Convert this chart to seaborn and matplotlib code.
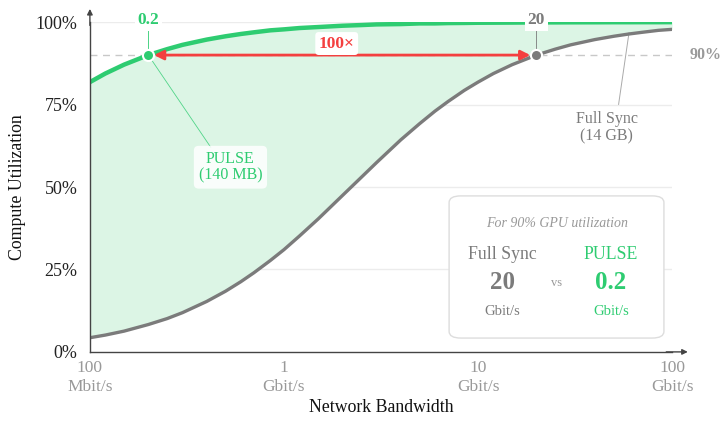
import matplotlib
matplotlib.use('Agg')
import matplotlib.pyplot as plt
from matplotlib.patches import FancyBboxPatch
from matplotlib.ticker import FixedLocator, LogLocator, NullFormatter
import pandas as pd
import seaborn as sns

# bandwidth in Gbit/s
bandwidth = [0.1, 0.12, 0.15, 0.2, 0.25, 0.3, 0.4, 0.5, 0.6, 0.7, 0.85, 1, 1.2, 1.5,
             2, 2.5, 3, 4, 5, 6, 7, 8.5, 10, 12, 15, 20, 25, 30, 40, 50, 60, 70,
             85, 100]
# utilization in %
full_sync = [4.3, 5.1, 6.3, 8.3, 10.1, 11.9, 15.3, 18.4, 21.3, 24.0, 27.7, 31.0,
             35.1, 40.3, 47.4, 52.9, 57.4, 64.3, 69.2, 73.0, 75.9, 79.3, 81.8,
             84.4, 87.1, 90.0, 91.8, 93.1, 94.7, 95.7, 96.4, 96.9, 97.5, 97.8]
pulse = [81.8, 84.4, 87.1, 90.0, 91.8, 93.1, 94.7, 95.7, 96.4, 96.9, 97.5, 97.8,
         98.2, 98.5, 98.9, 99.1, 99.3, 99.4, 99.6, 99.6, 99.7, 99.74, 99.8,
         99.82, 99.85, 99.9, 99.91, 99.93, 99.94, 99.96, 99.96, 99.97, 99.97, 99.98]

target = 90
pulse_bw = 0.2
sync_bw = 20
xticks = [0.1, 1, 10, 100]
xticklabels = ['100\nMbit/s', '1\nGbit/s', '10\nGbit/s', '100\nGbit/s']
yticks = [0, 25, 50, 75, 100]

GREEN = '#2ecc71'
GRAY = '#7b7b7b'
RED = '#f43f3f'
LIGHT = '#999999'

df = pd.DataFrame({'bw': bandwidth, 'sync': [v / 100 for v in full_sync],
                   'pulse': [v / 100 for v in pulse]})

sns.set_style('white')
plt.rcParams['font.family'] = ['Liberation Serif', 'DejaVu Serif']

fig = plt.figure(figsize=(7.25, 4.25), dpi=100)
ax = fig.add_axes([0.124, 0.172, 0.803, 0.776])

ax.set_xscale('log')
ax.set_xlim(0.1, 100)
ax.set_ylim(0, 1.0)

for y in [0.25, 0.5, 0.75, 1.0]:
    ax.axhline(y, color='#ececec', lw=1, zorder=0)

ax.fill_between(df.bw, df.sync, df.pulse, color='#dcf5e5', lw=0, zorder=1)
ax.axhline(target / 100, color='#c8c8c8', lw=1, ls=(0, (5, 4)), zorder=1.5)

sns.lineplot(data=df, x='bw', y='pulse', color=GREEN, lw=3.2, ax=ax, zorder=3)
sns.lineplot(data=df, x='bw', y='sync', color=GRAY, lw=2.4, ax=ax, zorder=3)

# red arrow between the two 90% points
ax.annotate('', xy=(sync_bw * 0.93, 0.9), xytext=(pulse_bw * 1.07, 0.9),
            arrowprops=dict(arrowstyle='<|-|>', color=RED, lw=2, mutation_scale=14,
                            shrinkA=0, shrinkB=0), zorder=4)
ax.text(1.87, 0.935, '100×', color=RED, fontsize=12.5, fontweight='bold',
        ha='center', va='center', zorder=6,
        bbox=dict(boxstyle='round,pad=0.2', fc='white', ec='none'))

# points
ax.plot([pulse_bw], [0.9], 'o', ms=8, color=GREEN, mec='white', mew=1.5, zorder=5)
ax.plot([sync_bw], [0.9], 'o', ms=8, color=GRAY, mec='white', mew=1.5, zorder=5)

# labels above the points
ax.plot([pulse_bw, pulse_bw], [0.9, 0.99], color=GREEN, lw=0.6, zorder=2)
ax.text(pulse_bw, 1.005, '0.2', color=GREEN, fontsize=12.5, fontweight='bold',
        ha='center', va='center', zorder=6,
        bbox=dict(boxstyle='square,pad=0.15', fc='white', ec='none'))
ax.plot([sync_bw, sync_bw], [0.9, 0.99], color=GRAY, lw=0.6, zorder=2)
ax.text(sync_bw, 1.005, '20', color=GRAY, fontsize=12.5, fontweight='bold',
        ha='center', va='center', zorder=6,
        bbox=dict(boxstyle='square,pad=0.15', fc='white', ec='none'))

ax.text(1.057, 0.9, '90%', transform=ax.transAxes, color=LIGHT, fontsize=11.5,
        fontweight='bold', ha='center', va='center')

# callouts
ax.plot([pulse_bw, 0.42], [0.9, 0.62], color=GREEN, lw=0.6, alpha=0.8, zorder=2)
ax.text(0.53, 0.56, 'PULSE\n(140 MB)', color=GREEN, fontsize=11.5, ha='center',
        va='center', linespacing=1.1, zorder=6,
        bbox=dict(boxstyle='round,pad=0.3', fc='white', ec='none', alpha=0.85))
ax.plot([60, 53], [0.968, 0.75], color='#aaaaaa', lw=0.7, zorder=2)
ax.text(46, 0.68, 'Full Sync\n(14 GB)', color=GRAY, fontsize=11.5, ha='center',
        va='center', linespacing=1.1, zorder=6,
        bbox=dict(boxstyle='round,pad=0.2', fc='white', ec='none'))

# info box
box = FancyBboxPatch((0.617, 0.042), 0.369, 0.431, transform=ax.transAxes,
                     boxstyle='round,pad=0,rounding_size=0.02', fc='white',
                     ec='#dddddd', lw=1, zorder=6)
ax.add_patch(box)
ax.text(0.802, 0.388, 'For 90% GPU utilization', transform=ax.transAxes,
        color=LIGHT, fontsize=10, style='italic', ha='center', va='center', zorder=7)
ax.text(0.708, 0.294, 'Full Sync', transform=ax.transAxes, color=GRAY,
        fontsize=12.8, ha='center', va='center', zorder=7)
ax.text(0.708, 0.209, '20', transform=ax.transAxes, color=GRAY, fontsize=18,
        fontweight='bold', ha='center', va='center', zorder=7)
ax.text(0.708, 0.124, 'Gbit/s', transform=ax.transAxes, color=GRAY,
        fontsize=10.5, ha='center', va='center', zorder=7)
ax.text(0.802, 0.209, 'vs', transform=ax.transAxes, color=LIGHT, fontsize=9,
        ha='center', va='center', zorder=7)
ax.text(0.895, 0.294, 'PULSE', transform=ax.transAxes, color=GREEN,
        fontsize=12.8, ha='center', va='center', zorder=7)
ax.text(0.895, 0.209, '0.2', transform=ax.transAxes, color=GREEN, fontsize=18,
        fontweight='bold', ha='center', va='center', zorder=7)
ax.text(0.895, 0.124, 'Gbit/s', transform=ax.transAxes, color=GREEN,
        fontsize=10.5, ha='center', va='center', zorder=7)

# axes styling
for s in ['top', 'right']:
    ax.spines[s].set_visible(False)
for s in ['left', 'bottom']:
    ax.spines[s].set_color('#444444')
    ax.spines[s].set_linewidth(1)
    ax.spines[s].set_zorder(8)
ax.annotate('', xy=(0, 1.04), xytext=(0, 0.99), xycoords='axes fraction',
            arrowprops=dict(arrowstyle='-|>', color='#444444', lw=1, mutation_scale=8,
                            shrinkA=0, shrinkB=0), annotation_clip=False)
ax.annotate('', xy=(1.027, 0), xytext=(0.99, 0), xycoords='axes fraction',
            arrowprops=dict(arrowstyle='-|>', color='#444444', lw=1, mutation_scale=8,
                            shrinkA=0, shrinkB=0), annotation_clip=False)

ax.xaxis.set_major_locator(FixedLocator(xticks))
ax.set_xticklabels(xticklabels)
ax.xaxis.set_minor_locator(LogLocator(base=10, subs=range(2, 10)))
ax.xaxis.set_minor_formatter(NullFormatter())
ax.set_yticks([v / 100 for v in yticks])
ax.set_yticklabels([f'{v}%' for v in yticks])

ax.tick_params(axis='x', which='major', direction='inout', length=8, width=1,
               color='#444444', labelsize=12.5, labelcolor=LIGHT, pad=2)
ax.tick_params(axis='x', which='minor', direction='inout', length=5, width=0.8,
               color='#444444')
ax.tick_params(axis='y', direction='inout', length=6, width=1, color='#444444',
               labelsize=13, labelcolor='#222222', pad=6)

ax.set_xlabel('Network Bandwidth', fontsize=12.8, color='#111111', labelpad=3)
ax.set_ylabel('Compute Utilization', fontsize=12.8, color='#111111', labelpad=7)

fig.savefig('out.png', dpi=100)
